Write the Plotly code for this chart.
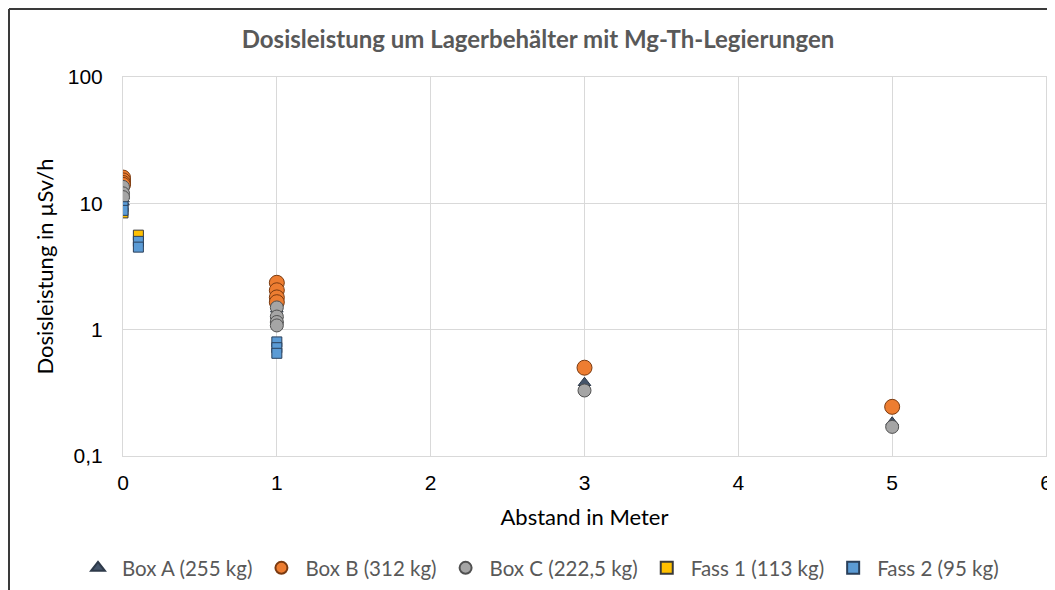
import plotly.graph_objects as go

# ---- data ----
series_names = ["Box A (255 kg)", "Box B (312 kg)", "Box C (222,5 kg)", "Fass 1 (113 kg)", "Fass 2 (95 kg)"]

box_a_x = [0, 0, 0, 1, 1, 1, 3, 5]
box_a_y = [11.5, 10.8, 10.2, 1.45, 1.3, 1.2, 0.38, 0.185]

box_b_x = [0, 0, 0, 0, 1, 1, 1, 1, 3, 5]
box_b_y = [16.0, 15.2, 14.5, 14.0, 2.35, 2.05, 1.8, 1.65, 0.5, 0.245]

box_c_x = [0, 0, 0, 1, 1, 1, 1, 3, 5]
box_c_y = [13.5, 12.0, 11.2, 1.5, 1.27, 1.15, 1.08, 0.33, 0.17]

fass1_x = [0, 0.1]
fass1_y = [8.4, 5.6]

fass2_x = [0, 0, 0.1, 0.1, 1, 1, 1]
fass2_y = [9.4, 8.8, 5.0, 4.5, 0.8, 0.72, 0.65]

y_tickvals = [0.1, 1, 10, 100]
y_ticktext = ["0,1", "1", "10", "100"]
x_tickvals = [0, 1, 2, 3, 4, 5, 6]

# ---- styles ----
styles = [
    dict(symbol="triangle-up", size=11, color="#44546A", line=dict(color="#2E3A4A", width=1)),
    dict(symbol="circle", size=15, color="#ED7D31", line=dict(color="#7A3A10", width=1)),
    dict(symbol="circle", size=13, color="#A5A5A5", line=dict(color="#505050", width=1)),
    dict(symbol="square", size=10, color="#FFC000", line=dict(color="#3A3A3A", width=1)),
    dict(symbol="square", size=10, color="#5B9BD5", line=dict(color="#2A3F5A", width=1)),
]

xs = [box_a_x, box_b_x, box_c_x, fass1_x, fass2_x]
ys = [box_a_y, box_b_y, box_c_y, fass1_y, fass2_y]

fig = go.Figure()
for name, x, y, st in zip(series_names, xs, ys, styles):
    fig.add_trace(go.Scatter(x=x, y=y, mode="markers", name=name, marker=st))

font_main = "Lato, Carlito, 'Open Sans', sans-serif"
grid = "#D9D9D9"

W, H = 1047, 582
L, R, T, B = 115, 9, 69, 134
pw, ph = W - L - R, H - T - B

fig.update_layout(
    width=W, height=H,
    margin=dict(l=L, r=R, t=T, b=B, autoexpand=False),
    paper_bgcolor="white", plot_bgcolor="white",
    separators=",.",
    title=dict(text="<b>Dosisleistung um Lagerbehälter mit Mg-Th-Legierungen</b>",
               x=530 / W, xanchor="center", y=1 - 32 / H, yanchor="middle",
               font=dict(family=font_main, size=24, color="#595959")),
    xaxis=dict(range=[0, 6], tickvals=x_tickvals, showgrid=True, gridcolor=grid, gridwidth=1,
               zeroline=False, showline=True, linecolor=grid, mirror=True,
               tickfont=dict(family="Liberation Sans, Arial", size=21, color="#000000"),
               ticks="", ticklabelstandoff=8, automargin=False, ticklabeloverflow="allow",
               title=dict(text="Abstand in Meter", standoff=16,
                          font=dict(family=font_main, size=22, color="#000000"))),
    yaxis=dict(type="log", range=[-1, 2], tickvals=y_tickvals, ticktext=y_ticktext,
               showgrid=True, gridcolor=grid, gridwidth=1, zeroline=False,
               showline=True, linecolor=grid, mirror=True,
               tickfont=dict(family="Liberation Sans, Arial", size=21, color="#000000"),
               ticks="", ticklabelstandoff=15, automargin=False,
               title=dict(text="Dosisleistung in µSv/h", standoff=8,
                          font=dict(family=font_main, size=22, color="#000000"))),
    showlegend=True,
    legend=dict(orientation="h", x=(66 - L) / pw, xanchor="left",
                y=(ph - (560 - T)) / ph, yanchor="middle",
                font=dict(family=font_main, size=20.5, color="#595959"),
                itemwidth=38, itemsizing="constant", traceorder="normal",
                bgcolor="rgba(0,0,0,0)"),
    shapes=[
        dict(type="line", xref="paper", yref="paper",
             x0=(1 - L) / pw, x1=(W + 5 - L) / pw, y0=(ph + T - 1) / ph, y1=(ph + T - 1) / ph,
             line=dict(color="#3A3A3A", width=2)),
        dict(type="line", xref="paper", yref="paper",
             x0=(1 - L) / pw, x1=(1 - L) / pw, y0=(ph + T - 1) / ph, y1=-(B + 5) / ph,
             line=dict(color="#3A3A3A", width=2)),
    ],
)

fig.write_html("out.html")
